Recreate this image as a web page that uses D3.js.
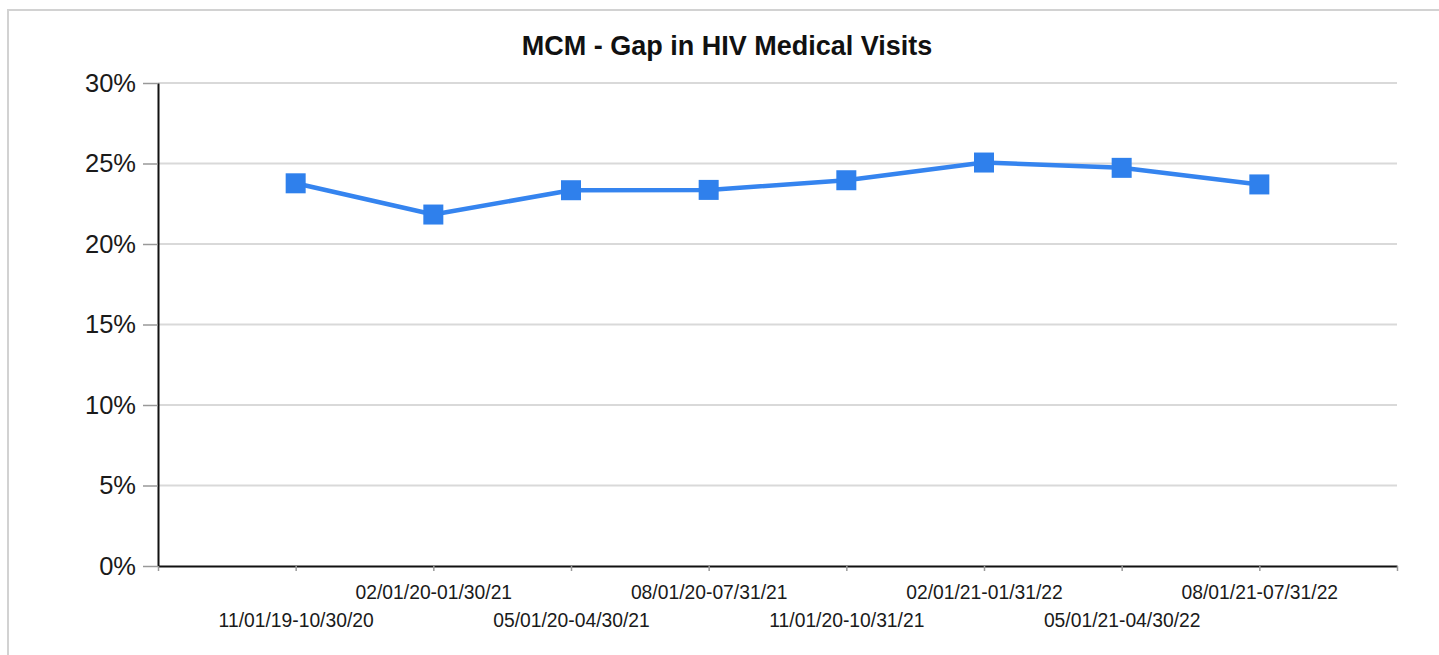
<!DOCTYPE html>
<html>
<head>
<meta charset="utf-8">
<script src="https://cdn.jsdelivr.net/npm/d3@7"></script>
<style>
  body { margin: 0; background: #fff; }
  text { font-family: "Liberation Sans", Arial, sans-serif; }
</style>
</head>
<body>
<svg id="plot" width="1439" height="655"></svg>
<script>
const periods = [
  "11/01/19-10/30/20", "02/01/20-01/30/21", "05/01/20-04/30/21", "08/01/20-07/31/21",
  "11/01/20-10/31/21", "02/01/21-01/31/22", "05/01/21-04/30/22", "08/01/21-07/31/22"
];
const gapRates = [0.2377, 0.2183, 0.2334, 0.2336, 0.2396, 0.2506, 0.2473, 0.2370];
const yTicks = [0, 0.05, 0.10, 0.15, 0.20, 0.25, 0.30];

const width = 1439;
const height = 655;
const margin = { top: 83, right: 42, bottom: 89, left: 158 };

const svg = d3.select("#plot");

// outer frame (only top/left visible in the picture)
svg.append("rect")
  .attr("x", 8)
  .attr("y", 10)
  .attr("width", 1450)
  .attr("height", 660)
  .attr("fill", "none")
  .attr("stroke", "#d2d2d2")
  .attr("stroke-width", 2);

svg.append("text")
  .attr("x", 727)
  .attr("y", 55)
  .attr("text-anchor", "middle")
  .attr("font-size", 27)
  .attr("font-weight", "bold")
  .attr("fill", "#111")
  .text("MCM - Gap in HIV Medical Visits");

const xScale = d3.scaleLinear()
  .domain([0, periods.length + 1])
  .range([margin.left, width - margin.right]);

const yScale = d3.scaleLinear()
  .domain([0, 0.30])
  .range([height - margin.bottom, margin.top]);

// gridlines
svg.append("g")
  .selectAll("line")
  .data(yTicks.filter(d => d > 0))
  .enter().append("line")
  .attr("x1", xScale(0))
  .attr("x2", xScale(periods.length + 1))
  .attr("y1", d => yScale(d))
  .attr("y2", d => yScale(d))
  .attr("stroke", "#d9d9d9")
  .attr("stroke-width", 2);

// y axis
const yAxis = d3.axisLeft(yScale)
  .tickValues(yTicks)
  .tickFormat(d3.format(".0%"))
  .tickSize(15)
  .tickSizeOuter(0)
  .tickPadding(7);

const gy = svg.append("g")
  .attr("transform", `translate(${margin.left},0)`)
  .call(yAxis);
gy.select(".domain").attr("stroke", "#111").attr("stroke-width", 2);
gy.selectAll(".tick line").attr("stroke", "#999").attr("stroke-width", 1.5);
gy.selectAll(".tick text")
  .attr("font-size", 25.5)
  .attr("fill", "#1a1a1a")
  .style("font-family", "'Liberation Sans', Arial, sans-serif");

// x axis, labels staggered on two rows
const xAxis = d3.axisBottom(xScale)
  .tickValues(d3.range(0, periods.length + 2))
  .tickFormat(d => (d >= 1 && d <= periods.length) ? periods[d - 1] : "")
  .tickSize(5)
  .tickSizeOuter(0)
  .tickPadding(8);

const gx = svg.append("g")
  .attr("transform", `translate(0,${height - margin.bottom})`)
  .call(xAxis);
gx.select(".domain").attr("stroke", "#111").attr("stroke-width", 2);
gx.selectAll(".tick line").attr("stroke", "#999").attr("stroke-width", 1.5);
gx.selectAll(".tick text")
  .attr("font-size", 19.3)
  .attr("fill", "#1a1a1a")
  .style("font-family", "'Liberation Sans', Arial, sans-serif")
  .attr("y", d => (d % 2 === 1) ? 61 : 33)
  .attr("dy", "0");

// series line
const line = d3.line()
  .x((d, i) => xScale(i + 1))
  .y(d => yScale(d));

svg.append("path")
  .datum(gapRates)
  .attr("fill", "none")
  .attr("stroke", "#3584ef")
  .attr("stroke-width", 4.5)
  .attr("stroke-linejoin", "round")
  .attr("d", line);

const markerSize = 20;
svg.append("g")
  .selectAll("rect")
  .data(gapRates)
  .enter().append("rect")
  .attr("x", (d, i) => xScale(i + 1) - markerSize / 2)
  .attr("y", d => yScale(d) - markerSize / 2)
  .attr("width", markerSize)
  .attr("height", markerSize)
  .attr("fill", "#2f80ec");
</script>
</body>
</html>
